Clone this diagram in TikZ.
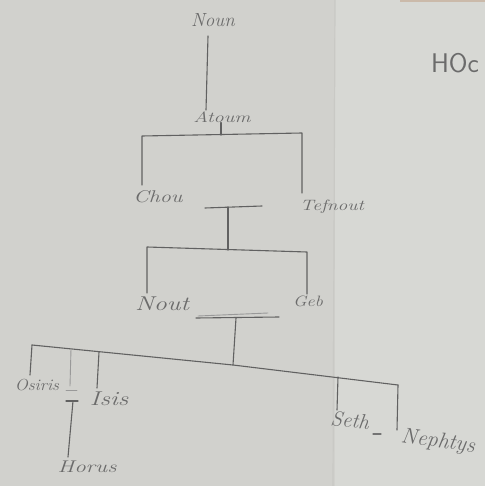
\documentclass[tikz,border=0pt]{standalone}
\usepackage{graphicx}
\newcommand{\hwtext}[2]{\scalebox{#1}[1]{#2}}
\begin{document}
\begin{tikzpicture}[x=1pt,y=-1pt,
  ink/.style={draw=black!62, line width=1.1pt, line cap=round, line join=round},
  faint/.style={draw=black!40, line width=0.9pt, line cap=round},
  lbl/.style={text=black!58, inner sep=0pt, font=\itshape}]
\definecolor{paperL}{HTML}{D1D1CD}
\definecolor{paperR}{HTML}{D7D8D4}
\definecolor{foldc}{HTML}{C9C9C5}
\useasboundingbox (0,0) rectangle (485,486);
\fill[paperL] (0,0) rectangle (485,486);
\fill[paperR] (335,0) rectangle (485,486);
\draw[foldc, line width=1.2pt] (335,0) -- (333,486);
\fill[black!35!brown!40] (400,0) rectangle (485,2);

% labels
\node[lbl, font=\itshape\fontsize{19}{19}\selectfont] (noun) at (213,20) {\hwtext{1.0}{Noun}};
\node[lbl, font=\itshape\fontsize{15}{15}\selectfont] (atoum) at (222,117) {\hwtext{1.35}{Atoum}};
\node[lbl, font=\itshape\fontsize{17}{17}\selectfont] (chou) at (158,197) {\hwtext{1.3}{Chou}};
\node[lbl, font=\itshape\fontsize{15}{15}\selectfont] (tefnout) at (332,207) {\hwtext{1.3}{Tefnout}};
\node[lbl, font=\itshape\fontsize{20}{20}\selectfont] (nout) at (162,304) {\hwtext{1.3}{Nout}};
\node[lbl, font=\itshape\fontsize{15}{15}\selectfont] (geb) at (308,301) {\hwtext{1.2}{Geb}};
\node[lbl, font=\itshape\fontsize{16}{16}\selectfont] (osiris) at (37,385) {\hwtext{1.08}{Osiris}};
\node[lbl, font=\itshape\fontsize{20}{20}\selectfont] (isis) at (109,399) {\hwtext{1.3}{Isis}};
\node[lbl, font=\itshape\fontsize{17}{17}\selectfont] (horus) at (87,467) {\hwtext{1.35}{Horus}};
\node[lbl, font=\itshape\fontsize{21}{21}\selectfont, rotate=-6] (seth) at (350,420) {Seth};
\node[lbl, font=\itshape\fontsize{22}{22}\selectfont, rotate=-8] (nephtys) at (438,442) {Nephtys};
\node[text=black!58, inner sep=0pt, font=\sffamily\fontsize{27}{27}\selectfont] (hoc) at (455,63) {HOc};

% junction coordinates
\coordinate (j1) at (221,135);
\coordinate (b1l) at (142,136);
\coordinate (b1r) at (302,133);
\coordinate (m1l) at (205,208);
\coordinate (m1r) at (262,206);
\coordinate (m1c) at (228,207);
\coordinate (j2) at (228,250);
\coordinate (b2l) at (147,247);
\coordinate (b2r) at (307,252);
\coordinate (m2l) at (196,318);
\coordinate (m2r) at (279,317);
\coordinate (m2c) at (236,318);
\coordinate (j3) at (233,365);
\coordinate (b3l) at (32,345);
\coordinate (b3r) at (398,385);
\coordinate (jo) at (71,349);
\coordinate (ji) at (99,352);
\coordinate (js) at (338,377);
\coordinate (mo) at (73,401);

% Noun -> Atoum
\draw[ink] (208,36) -- (206,110);
% Atoum -> Chou, Tefnout
\draw[ink] (atoum.south -| j1) -- (j1);
\draw[ink] (b1l |- 0,185) -- (b1l) -- (b1r) -- (b1r |- 0,193);
% Chou = Tefnout -> children
\draw[ink] (m1l) -- (m1r);
\draw[ink] (m1c) -- (j2);
\draw[ink] (b2l |- 0,293) -- (b2l) -- (b2r) -- (b2r |- 0,294);
% Nout = Geb -> children
\draw[faint] (m2l) ++(2,-2) -- ++(70,-3);
\draw[ink] (m2l) -- (m2r);
\draw[ink] (m2c) -- (j3);
\draw[ink] (b3l) -- (j3) -- (b3r);
\draw[ink] (b3l) -- (30,375);
\draw[faint] (jo) -- (70,386);
\draw[ink] (ji) -- (97,388);
\draw[ink] (js) -- (337,410);
\draw[ink] (b3r) -- (397,430);
% Osiris = Isis -> Horus
\draw[faint] (66,390) -- (77,390);
\draw[ink] (66,401) -- (78,401);
\draw[ink] (mo) -- (68,457);
% Seth - Nephtys
\draw[ink, draw=black!55] (373,434) -- (381,434);
\end{tikzpicture}
\end{document}
